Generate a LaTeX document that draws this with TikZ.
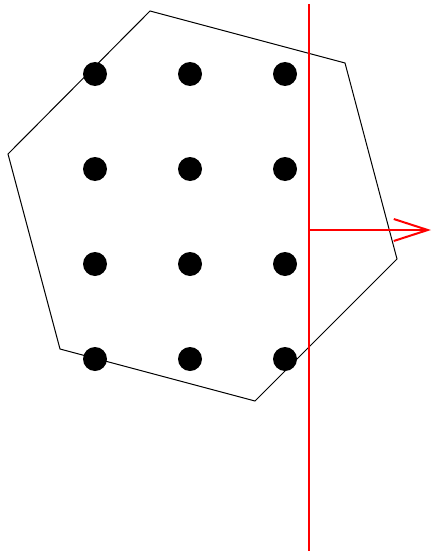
\documentclass[tikz,border=0pt]{standalone}
\usetikzlibrary{arrows.meta}
\begin{document}
\begin{tikzpicture}[x=1pt,y=-1pt,
  dot/.style={circle,fill=black,inner sep=0pt,minimum size=24pt},
  hull/.style={draw=black,line width=1pt,line join=miter},
  cut/.style={draw=red,line width=2pt},
  normal/.style={draw=red,line width=2pt,-{Straight Barb[length=34pt,width=22pt,line width=2pt]}}]
\useasboundingbox (0,0) rectangle (432,551);
\coordinate (v1) at (150,11);
\coordinate (v2) at (345,63);
\coordinate (v3) at (397,259);
\coordinate (v4) at (255,401);
\coordinate (v5) at (60,349);
\coordinate (v6) at (8,154);
\draw[hull] (v1) -- (v2) -- (v3) -- (v4) -- (v5) -- (v6) -- cycle;
\foreach \i/\x in {1/95,2/190,3/285}{
  \foreach \j/\y in {1/74,2/169,3/264,4/359}{
    \node[dot] (d\i\j) at (\x,\y) {};
  }
}
\coordinate (ltop) at (309,4);
\coordinate (lbot) at (309,551);
\coordinate (base) at (309,230);
\coordinate (tip) at (431,230);
\draw[cut] (ltop) -- (lbot);
\draw[normal] (base) -- (tip);
\end{tikzpicture}
\end{document}
